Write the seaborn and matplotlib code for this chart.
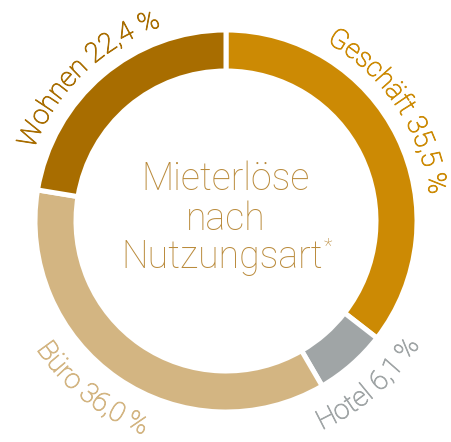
import numpy as np
import matplotlib
matplotlib.use('Agg')
import matplotlib.pyplot as plt
import matplotlib.patheffects as pe
import seaborn as sns

# data
categories = ['Geschäft', 'Hotel', 'Büro', 'Wohnen']
shares = [35.5, 6.1, 36.0, 22.4]
labels = ['Geschäft 35,5 %', 'Hotel 6,1 %', 'Büro 36,0 %', 'Wohnen 22,4 %']
colors = ['#CC8A04', '#A0A5A6', '#D3B582', '#A86D00']
title_lines = ['Mieterlöse', 'nach', 'Nutzungsart']

sns.set_theme(style='white')
plt.rcParams['font.family'] = ['Roboto', 'DejaVu Sans']

DPI = 100
fig = plt.figure(figsize=(4.51, 4.42), dpi=DPI)
ax = fig.add_axes([0, 0, 1, 1])

R_OUT, R_W = 191, 41
ax.pie(shares, colors=colors, startangle=90, counterclock=False,
       radius=R_OUT, center=(0, 0),
       wedgeprops=dict(width=R_W, edgecolor='white', linewidth=3.6))
ax.set_xlim(-226, 225)
ax.set_ylim(-221, 221)
ax.set_aspect('equal')
ax.axis('off')

renderer = fig.canvas.get_renderer()


def text_width(s, fs, weight):
    t = ax.text(0, 0, s + 'l', fontsize=fs, fontweight=weight)
    w = t.get_window_extent(renderer).width
    t.remove()
    t = ax.text(0, 0, 'l', fontsize=fs, fontweight=weight)
    w -= t.get_window_extent(renderer).width
    t.remove()
    return w


# centre title
title_color = '#BA8B3C'
title_fs = 37.5 * 72 / DPI
for line, yb in zip(title_lines[:2], [31, -9]):
    ax.text(0, yb, line, ha='center', va='baseline', fontsize=title_fs,
            fontweight='light', color=title_color)
w_main = text_width(title_lines[2], title_fs, 'light')
star_fs = 20 * 72 / DPI
w_star = text_width('*', star_fs, 'light')
x0 = -(w_main + w_star) / 2
ax.text(x0, -47, title_lines[2], ha='left', va='baseline', fontsize=title_fs,
        fontweight='light', color=title_color)
ax.text(x0 + w_main + 1, -47 + 16, '*', ha='left', va='baseline',
        fontsize=star_fs, fontweight='light', color=title_color)

label_fs = 27.5 * 72 / DPI
LW = 'light'


def curved_label(s, mid, radius, color, top=True):
    # mid: angle clockwise from 12 o'clock, degrees
    total = text_width(s, label_fs, LW)
    for i, ch in enumerate(s):
        if ch == ' ':
            continue
        a = text_width(s[:i], label_fs, LW)
        b = text_width(s[:i + 1], label_fs, LW)
        off = (a + b) / 2 - total / 2
        dth = np.degrees(off / radius)
        if top:
            th = mid + dth
            rot = -th
        else:
            th = mid - dth
            rot = 180 - th
        x = radius * np.sin(np.radians(th))
        y = radius * np.cos(np.radians(th))
        ax.text(x, y, ch, ha='center', va='baseline', rotation=rot,
                rotation_mode='anchor', fontsize=label_fs,
                fontweight=LW, color=color,
                path_effects=[pe.withStroke(linewidth=0.6, foreground=color)])


curved_label(labels[0], 56, 205, colors[0], top=True)
curved_label(labels[3], 316, 205, colors[3], top=True)
curved_label(labels[2], 218.5, 229, colors[2], top=False)
curved_label(labels[1], 139, 230, colors[1], top=False)

fig.savefig('out.png', dpi=DPI)
